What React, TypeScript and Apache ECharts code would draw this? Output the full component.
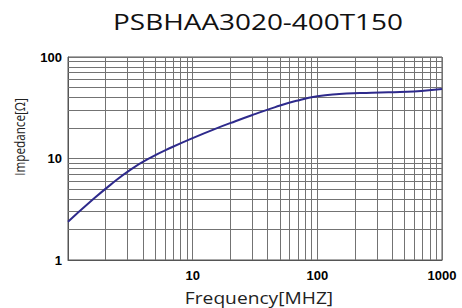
import React, { useEffect, useRef } from "react";
import * as echarts from "echarts";

const TITLE = "PSBHAA3020-400T150";
const X_NAME = "Frequency[MHZ]";
const Y_NAME = "Impedance[Ω]";

const FREQUENCY_MHZ = [1, 1.5, 2.2, 3.2, 4.6, 6.8, 10, 15, 22, 32, 46, 68, 100, 150, 220, 320, 460, 680, 1000];
const IMPEDANCE_OHM = [2.38, 3.72, 5.53, 7.82, 10.2, 12.9, 15.9, 19.5, 23.3, 27.5, 32.1, 37.0, 41.0, 43.1, 44.1, 44.7, 45.3, 46.3, 48.4];

const X_MINOR = [2, 3, 4, 5, 6, 7, 8, 9, 20, 30, 40, 50, 60, 70, 80, 90, 200, 300, 400, 500, 600, 700, 800, 900];
const Y_MINOR = [2, 3, 4, 5, 6, 7, 8, 9, 20, 30, 40, 50, 60, 70, 80, 90];

const GRID_COLOR = "#737373";

export default function App() {
  const ref = useRef<HTMLDivElement>(null);
  useEffect(() => {
    if (!ref.current) return;
    const chart = echarts.init(ref.current, null, { renderer: "svg" });
    const labelFont = {
      color: "#000",
      fontFamily: "Liberation Sans",
      fontWeight: "bold" as const,
      fontSize: 13,
    };
    chart.setOption({
      animation: false,
      backgroundColor: "#fff",
      grid: {
        left: 68,
        top: 57,
        right: 20,
        bottom: 48,
        show: true,
        borderColor: "#555",
        borderWidth: 1,
        backgroundColor: "transparent",
      },
      graphic: [
        {
          type: "text",
          x: 258,
          y: 22,
          scaleX: 1.33,
          style: {
            text: TITLE,
            fontFamily: "Open Sans",
            fontSize: 21,
            fill: "#111",
            textAlign: "center",
            textVerticalAlign: "middle",
          },
        },
        {
          type: "text",
          x: 259,
          y: 298,
          scaleX: 1.2,
          style: {
            text: X_NAME,
            fontFamily: "Open Sans",
            fontSize: 16,
            fill: "#222",
            textAlign: "center",
            textVerticalAlign: "middle",
          },
        },
        {
          type: "text",
          x: 19,
          y: 137,
          rotation: Math.PI / 2,
          scaleX: 0.78,
          style: {
            text: Y_NAME,
            fontFamily: "Open Sans",
            fontSize: 15,
            fill: "#222",
            textAlign: "center",
            textVerticalAlign: "middle",
          },
        },
      ],
      xAxis: {
        type: "log",
        logBase: 10,
        min: 1,
        max: 1000,
        axisLine: { show: true, lineStyle: { color: "#555", width: 1 } },
        axisTick: { show: false },
        splitLine: { show: true, lineStyle: { color: GRID_COLOR, width: 1 } },
        axisLabel: {
          ...labelFont,
          margin: 9,
          formatter: (v: number) => (v === 1 ? "" : String(v)),
        },
      },
      yAxis: {
        type: "log",
        logBase: 10,
        min: 1,
        max: 100,
        axisLine: { show: true, lineStyle: { color: "#555", width: 1 } },
        axisTick: { show: false },
        splitLine: { show: true, lineStyle: { color: GRID_COLOR, width: 1 } },
        axisLabel: { ...labelFont, margin: 6 },
      },
      series: [
        {
          type: "line",
          data: [],
          silent: true,
          markLine: {
            silent: true,
            symbol: "none",
            label: { show: false },
            lineStyle: { type: "solid", color: GRID_COLOR, width: 1 },
            emphasis: { disabled: true },
            data: [
              ...X_MINOR.map((v) => ({ xAxis: v })),
              ...Y_MINOR.map((v) => ({ yAxis: v })),
            ],
          },
        },
        {
          type: "line",
          data: FREQUENCY_MHZ.map((f, i) => [f, IMPEDANCE_OHM[i]]),
          smooth: 0.5,
          showSymbol: false,
          lineStyle: { color: "#2e2a8c", width: 2 },
          z: 5,
        },
      ],
    });
    return () => chart.dispose();
  }, []);
  return <div ref={ref} style={{ width: 462, height: 308, position: "absolute", left: 0, top: 0 }} />;
}
